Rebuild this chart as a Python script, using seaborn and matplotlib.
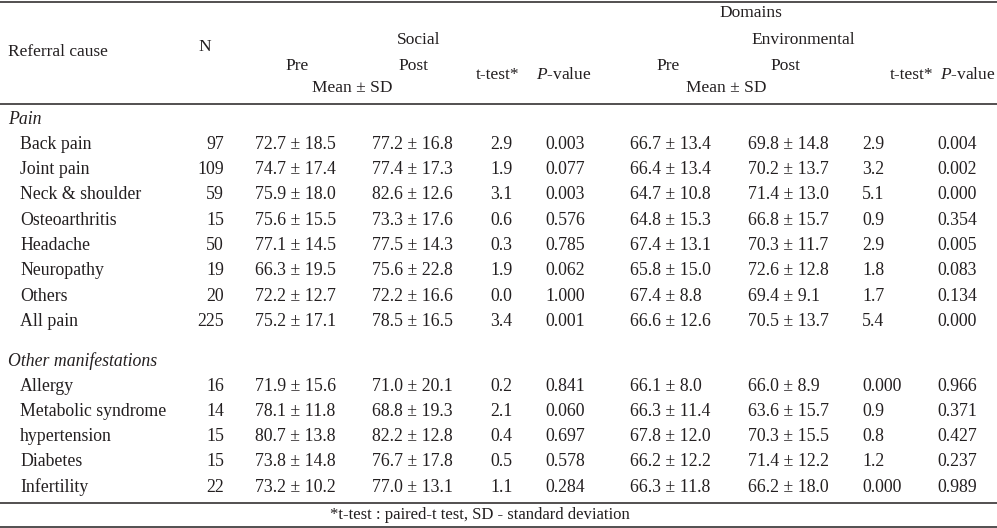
import matplotlib
matplotlib.use("Agg")
import matplotlib.pyplot as plt
import seaborn as sns

# table contents
pain_causes = ["Back pain", "Joint pain", "Neck & shoulder", "Osteoarthritis",
               "Headache", "Neuropathy", "Others", "All pain"]
other_causes = ["Allergy", "Metabolic syndrome", "hypertension", "Diabetes", "Infertility"]

n_pain = [97, 109, 59, 15, 50, 19, 20, 225]
n_other = [16, 14, 15, 15, 22]

social_pre = ["72.7 ± 18.5", "74.7 ± 17.4", "75.9 ± 18.0", "75.6 ± 15.5", "77.1 ± 14.5",
              "66.3 ± 19.5", "72.2 ± 12.7", "75.2 ± 17.1",
              "71.9 ± 15.6", "78.1 ± 11.8", "80.7 ± 13.8", "73.8 ± 14.8", "73.2 ± 10.2"]
social_post = ["77.2 ± 16.8", "77.4 ± 17.3", "82.6 ± 12.6", "73.3 ± 17.6", "77.5 ± 14.3",
               "75.6 ± 22.8", "72.2 ± 16.6", "78.5 ± 16.5",
               "71.0 ± 20.1", "68.8 ± 19.3", "82.2 ± 12.8", "76.7 ± 17.8", "77.0 ± 13.1"]
social_t = ["2.9", "1.9", "3.1", "0.6", "0.3", "1.9", "0.0", "3.4",
            "0.2", "2.1", "0.4", "0.5", "1.1"]
social_p = ["0.003", "0.077", "0.003", "0.576", "0.785", "0.062", "1.000", "0.001",
            "0.841", "0.060", "0.697", "0.578", "0.284"]

env_pre = ["66.7 ± 13.4", "66.4 ± 13.4", "64.7 ± 10.8", "64.8 ± 15.3", "67.4 ± 13.1",
           "65.8 ± 15.0", "67.4 ± 8.8", "66.6 ± 12.6",
           "66.1 ± 8.0", "66.3 ± 11.4", "67.8 ± 12.0", "66.2 ± 12.2", "66.3 ± 11.8"]
env_post = ["69.8 ± 14.8", "70.2 ± 13.7", "71.4 ± 13.0", "66.8 ± 15.7", "70.3 ± 11.7",
            "72.6 ± 12.8", "69.4 ± 9.1", "70.5 ± 13.7",
            "66.0 ± 8.9", "63.6 ± 15.7", "70.3 ± 15.5", "71.4 ± 12.2", "66.2 ± 18.0"]
env_t = ["2.9", "3.2", "5.1", "0.9", "2.9", "1.8", "1.7", "5.4",
         "0.000", "0.9", "0.8", "1.2", "0.000"]
env_p = ["0.004", "0.002", "0.000", "0.354", "0.005", "0.083", "0.134", "0.000",
         "0.966", "0.371", "0.427", "0.237", "0.989"]

footnote = "*t-test : paired-t test, SD - standard deviation"

sns.set_style("white")
plt.rcParams["font.family"] = ["Liberation Serif", "DejaVu Serif"]
plt.rcParams["mathtext.fontset"] = "custom"
plt.rcParams["mathtext.rm"] = "Liberation Serif"
plt.rcParams["mathtext.it"] = "Liberation Serif:italic"

W, H = 997, 528
fig = plt.figure(figsize=(W / 100, H / 100), dpi=100)
ax = fig.add_axes([0, 0, 1, 1])
ax.set_xlim(0, W)
ax.set_ylim(H, 0)
ax.axis("off")

ink = "#231f20"
fs = 12.8
hfs = 12.5

def put(x, y, s, ha="left", size=fs, **kw):
    ax.text(x, y, s, ha=ha, va="center", fontsize=size, color=ink, **kw)

# rules
for y in (1.5, 104, 503, 526.5):
    ax.axhline(y, color=ink, lw=1.1)

# header
put(751, 13, "Domains", ha="center", size=hfs)
put(8, 52, "Referral cause", size=hfs)
put(205, 47, "N", ha="center", size=hfs)
put(419, 40, "Social", ha="center", size=hfs)
put(803, 40, "Environmental", ha="center", size=hfs)
for pre_x, post_x, msd_x, t_x, p_x in [(297, 413, 352, 498, 564), (668, 785, 726, 912, 968)]:
    put(pre_x, 66, "Pre", ha="center", size=hfs)
    put(post_x, 66, "Post", ha="center", size=hfs)
    put(msd_x, 88, "Mean ± SD", ha="center", size=hfs)
    put(t_x, 75, "t-test*", ha="center", size=hfs)
    put(p_x, 75, r"$\mathit{P}$-value", ha="center", size=hfs)

# body
pitch = 25.3
rows = []
y = 119
put(8, y, "Pain", style="italic")
for name, n in zip(pain_causes, n_pain):
    y += pitch
    rows.append((y, name, n))
y += pitch + 14
put(8, y, "Other manifestations", style="italic")
for name, n in zip(other_causes, n_other):
    y += pitch
    rows.append((y, name, n))

for i, (y, name, n) in enumerate(rows):
    put(20, y, name)
    put(224, y, str(n), ha="right")
    put(255, y, social_pre[i])
    put(372, y, social_post[i])
    put(490, y, social_t[i])
    put(545, y, social_p[i])
    put(630, y, env_pre[i])
    put(748, y, env_post[i])
    put(862, y, env_t[i])
    put(937, y, env_p[i])

put(480, 515, footnote, ha="center", size=12)

fig.savefig("out.png", dpi=100)
